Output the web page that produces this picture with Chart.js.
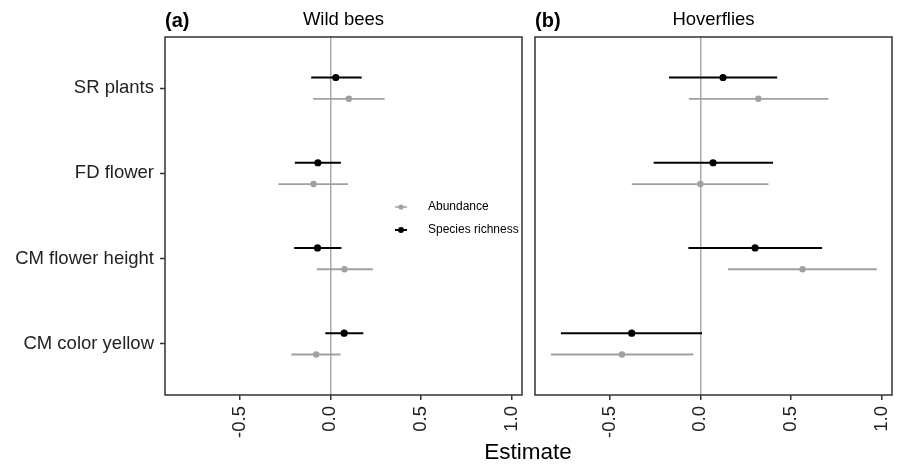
<!DOCTYPE html>
<html>
<head>
<meta charset="utf-8">
<script src="https://cdn.jsdelivr.net/npm/chart.js@4"></script>
<style>
  body { margin: 0; background: #fff; }
  #wrap { position: relative; width: 898px; height: 466px; }
  canvas { position: absolute; left: 0; top: 0; }
</style>
</head>
<body>
<div id="wrap">
  <canvas id="bees" width="898" height="466"></canvas>
  <canvas id="hover" width="898" height="466"></canvas>
</div>
<script>
// data
const categories = ["SR plants", "FD flower", "CM flower height", "CM color yellow"];
const xTicks = [-0.5, 0.0, 0.5, 1.0];
const seriesNames = ["Abundance", "Species richness"];
const seriesColors = ["#a0a0a0", "#000000"];

// wild bees
const beesAbundEst = [0.102, -0.093, 0.078, -0.078];
const beesAbundLo = [-0.095, -0.287, -0.075, -0.215];
const beesAbundHi = [0.300, 0.098, 0.235, 0.056];
const beesRichEst = [0.030, -0.069, -0.071, 0.076];
const beesRichLo = [-0.106, -0.196, -0.200, -0.028];
const beesRichHi = [0.173, 0.058, 0.061, 0.182];

// hoverflies
const hovAbundEst = [0.320, 0.000, 0.564, -0.433];
const hovAbundLo = [-0.063, -0.379, 0.153, -0.825];
const hovAbundHi = [0.707, 0.376, 0.974, -0.039];
const hovRichEst = [0.125, 0.070, 0.302, -0.379];
const hovRichLo = [-0.173, -0.258, -0.066, -0.770];
const hovRichHi = [0.424, 0.401, 0.672, 0.009];

const FONT = "'Liberation Sans', Arial, Helvetica, sans-serif";
Chart.defaults.font.family = FONT;

// dodge: abundance below, richness above the category line
const dodge = [0.125, -0.125];

function buildDatasets(series) {
  const sets = [];
  series.forEach((s, k) => {
    const off = dodge[k];
    sets.push({
      label: seriesNames[k],
      data: s.est.map((v, i) => ({ x: v, y: i + 1 + off })),
      backgroundColor: seriesColors[k],
      borderWidth: 0,
      pointRadius: k === 1 ? 3.6 : 3.2,
      order: 0
    });
    s.lo.forEach((lo, i) => {
      sets.push({
        label: seriesNames[k] + " CI",
        data: [{ x: lo, y: i + 1 + off }, { x: s.hi[i], y: i + 1 + off }],
        showLine: true,
        borderColor: seriesColors[k],
        borderWidth: k === 1 ? 2 : 1.8,
        pointRadius: 0,
        order: 1
      });
    });
  });
  return sets;
}

const deco = {
  id: 'deco',
  afterDraw(chart, args, opts) {
    const { ctx, chartArea: a } = chart;
    ctx.save();
    ctx.strokeStyle = '#333';
    ctx.lineWidth = 1.5;
    ctx.strokeRect(a.left, a.top, a.right - a.left, a.bottom - a.top);

    ctx.fillStyle = '#000';
    ctx.textBaseline = 'alphabetic';
    ctx.font = 'bold 20px ' + FONT;
    ctx.textAlign = 'left';
    ctx.fillText(opts.tag, a.left, 27);
    ctx.font = '18.5px ' + FONT;
    ctx.textAlign = 'center';
    ctx.fillText(opts.title, (a.left + a.right) / 2, 25);

    if (opts.legend) {
      ctx.font = '12px ' + FONT;
      ctx.textAlign = 'left';
      ctx.textBaseline = 'middle';
      const ys = [207, 230];
      seriesNames.forEach((n, k) => {
        ctx.strokeStyle = seriesColors[k];
        ctx.fillStyle = seriesColors[k];
        ctx.lineWidth = k === 1 ? 2 : 1.5;
        ctx.beginPath();
        ctx.moveTo(395, ys[k]);
        ctx.lineTo(407, ys[k]);
        ctx.stroke();
        ctx.beginPath();
        ctx.arc(401, ys[k], k === 1 ? 3 : 2.6, 0, Math.PI * 2);
        ctx.fill();
        ctx.fillStyle = '#000';
        ctx.fillText(n, 428, ys[k]);
      });
    }
    if (opts.xTitle) {
      ctx.fillStyle = '#000';
      ctx.font = '22.5px ' + FONT;
      ctx.textAlign = 'center';
      ctx.textBaseline = 'middle';
      ctx.fillText(opts.xTitle, 528, 453);
    }
    ctx.restore();
  }
};

function makeChart(id, series, showY, padding, decoOpts) {
  return new Chart(document.getElementById(id), {
    type: 'scatter',
    data: { datasets: buildDatasets(series) },
    plugins: [deco],
    options: {
      responsive: false,
      animation: false,
      layout: { padding: padding },
      plugins: {
        legend: { display: false },
        tooltip: { enabled: false },
        deco: decoOpts
      },
      scales: {
        x: {
          type: 'linear',
          min: -0.913,
          max: 1.058,
          afterBuildTicks: s => { s.ticks = xTicks.map(v => ({ value: v })); },
          afterFit: s => {
            s.height = 71;
            s.paddingLeft = 0;
            s.paddingRight = 0;
          },
          border: { display: false },
          grid: {
            color: c => (c.tick && c.tick.value === 0) ? '#aaaaaa' : 'rgba(0,0,0,0)',
            lineWidth: 1.5,
            tickColor: '#333',
            tickWidth: 1.5,
            tickLength: 5
          },
          ticks: {
            minRotation: 90,
            maxRotation: 90,
            padding: 6,
            color: '#222',
            font: { size: 18.5 },
            callback: v => Number(v).toFixed(1)
          }
        },
        y: {
          type: 'linear',
          display: showY,
          reverse: true,
          min: 0.4,
          max: 4.6,
          afterBuildTicks: s => { s.ticks = categories.map((c, i) => ({ value: i + 1 })); },
          afterFit: s => {
            s.width = showY ? 165 : 0;
            s.paddingTop = 0;
            s.paddingBottom = 0;
          },
          border: { display: false },
          grid: {
            color: 'rgba(0,0,0,0)',
            tickColor: '#333',
            tickWidth: 1.5,
            tickLength: 5
          },
          ticks: {
            padding: 6,
            color: '#222',
            font: { size: 18.5 },
            callback: v => categories[Math.round(v) - 1]
          }
        }
      }
    }
  });
}

makeChart('bees', [
  { est: beesAbundEst, lo: beesAbundLo, hi: beesAbundHi },
  { est: beesRichEst, lo: beesRichLo, hi: beesRichHi }
], true, { left: 0, top: 37, right: 376, bottom: 0 },
  { tag: '(a)', title: 'Wild bees', legend: true, xTitle: 'Estimate' });

makeChart('hover', [
  { est: hovAbundEst, lo: hovAbundLo, hi: hovAbundHi },
  { est: hovRichEst, lo: hovRichLo, hi: hovRichHi }
], false, { left: 535, top: 37, right: 6, bottom: 0 },
  { tag: '(b)', title: 'Hoverflies', legend: false });
</script>
</body>
</html>
